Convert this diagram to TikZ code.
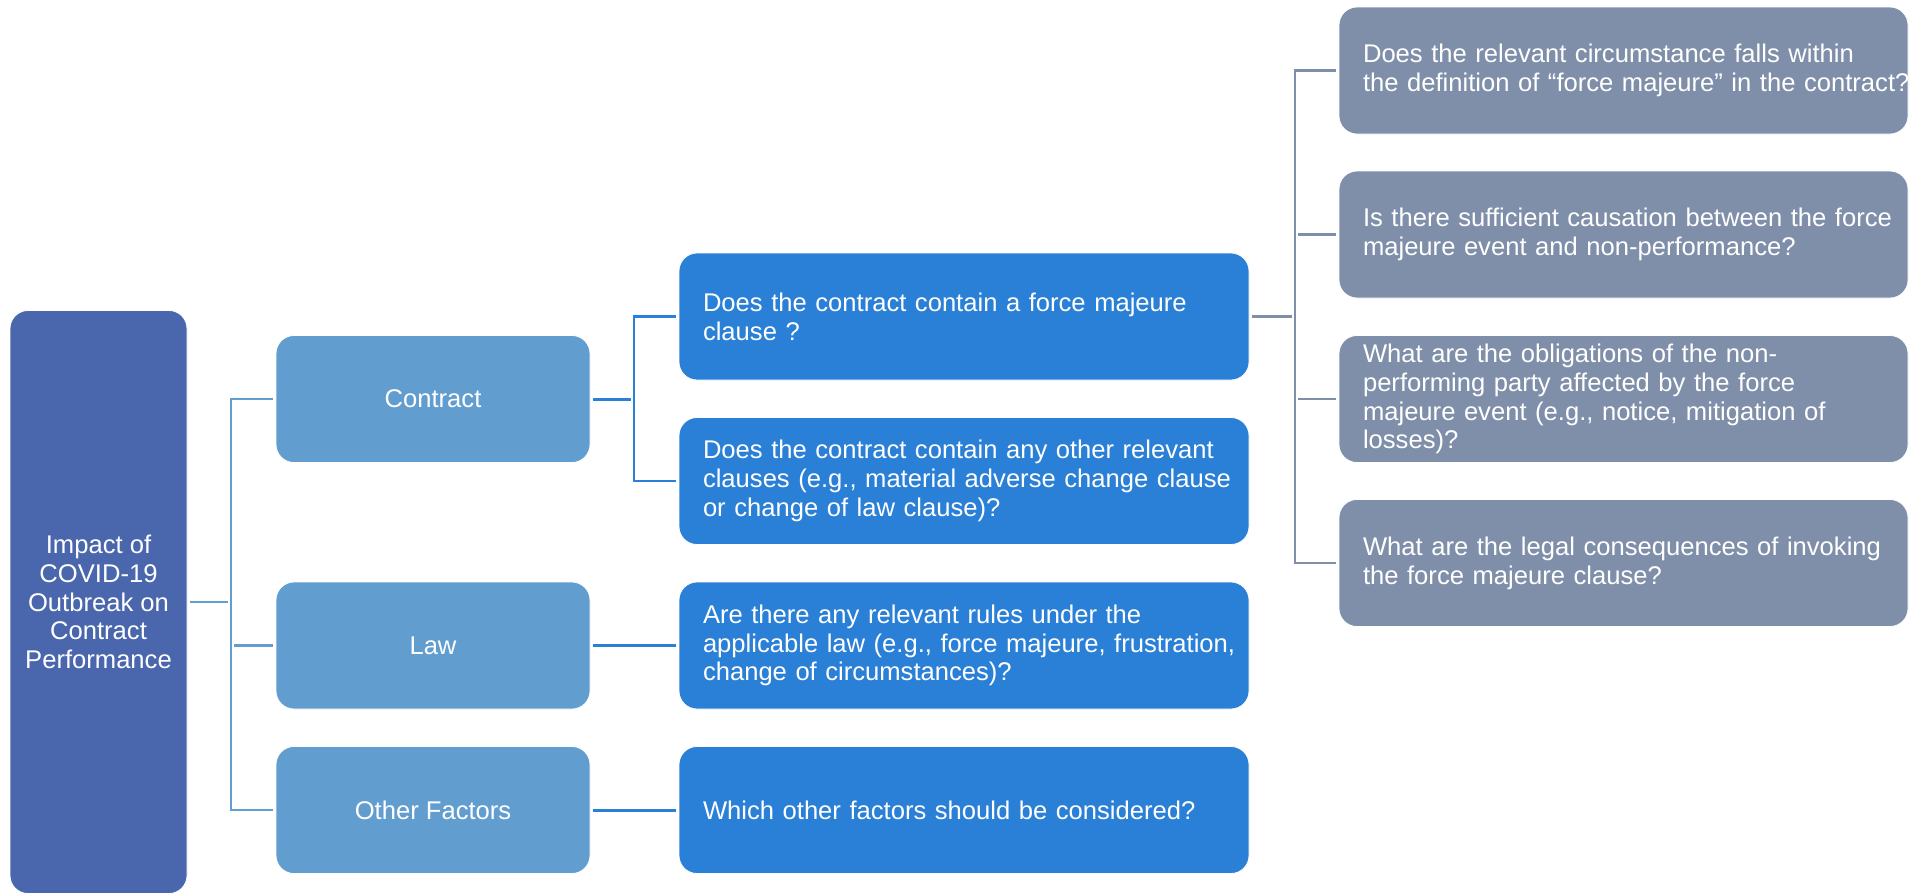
\documentclass[tikz,border=0pt]{standalone}
\usepackage{fontspec}
\setmainfont{Liberation Sans}
\definecolor{rootc}{HTML}{4A67AD}
\definecolor{lvlone}{HTML}{629DD0}
\definecolor{qblue}{HTML}{2A7FD6}
\definecolor{qgrey}{HTML}{7F8FA9}
\newcommand{\boxln}[1]{\mbox{#1}}
\begin{document}
\begin{tikzpicture}[x=0.5pt,y=-0.5pt,
  every node/.style={font=\fontsize{12.8pt}{14.4pt}\selectfont, text=white},
  rootbox/.style={fill=rootc, draw=white, line width=0.4pt, rounded corners=9pt, minimum width=88.5pt, minimum height=291.5pt, align=center, inner sep=2pt},
  lvlbox/.style={fill=lvlone, draw=white, line width=0.4pt, rounded corners=9pt, minimum width=157pt, minimum height=63.5pt, align=center},
  qbox/.style={fill=qblue, draw=white, line width=0.4pt, rounded corners=9pt, text width=261pt, inner xsep=12pt, minimum height=63.5pt, align=left},
  gbox/.style={fill=qgrey, draw=white, line width=0.4pt, rounded corners=9pt, text width=260.5pt, inner xsep=12pt, minimum height=63.5pt, align=left},
  conn/.style={line width=1.2pt, shorten >=1.5pt, shorten <=1.5pt},
  thickconn/.style={conn, line width=1.5pt},
]
\useasboundingbox (0,0) rectangle (1926,895);

\node[rootbox] (root) at (98.5,602) {Impact of\\COVID-19\\Outbreak on\\Contract\\Performance};

\node[lvlbox] (contract) at (433,399) {Contract};
\node[lvlbox] (law) at (433,645.5) {Law};
\node[lvlbox] (other) at (433,810) {Other Factors};

\node[qbox] (q1) at (964,316.5) {\boxln{Does the contract contain a force majeure}\\\boxln{clause ?}};
\node[qbox] (q2) at (964,481) {\boxln{Does the contract contain any other relevant}\\\boxln{clauses (e.g., material adverse change clause}\\\boxln{or change of law clause)?}};
\node[qbox] (lawq) at (964,645.5) {\boxln{Are there any relevant rules under the}\\\boxln{applicable law (e.g., force majeure, frustration,}\\\boxln{change of circumstances)?}};
\node[qbox] (otherq) at (964,810) {\boxln{Which other factors should be considered?}};

\node[gbox] (g1) at (1623.5,70.5) {\boxln{Does the relevant circumstance falls within}\\\boxln{the definition of “force majeure” in the contract?}};
\node[gbox] (g2) at (1623.5,234.5) {\boxln{Is there sufficient causation between the force}\\\boxln{majeure event and non-performance?}};
\node[gbox] (g3) at (1623.5,399) {\boxln{What are the obligations of the non-}\\\boxln{performing party affected by the force}\\\boxln{majeure event (e.g., notice, mitigation of}\\\boxln{losses)?}};
\node[gbox] (g4) at (1623.5,563) {\boxln{What are the legal consequences of invoking}\\\boxln{the force majeure clause?}};

% root connectors
\coordinate (bus1) at (231,0);
\draw[conn, draw=lvlone] (root.east) -- (root.east -| bus1);
\draw[conn, draw=lvlone] (contract.west) -- (contract.west -| bus1) -- (other.west -| bus1) -- (other.west);
\draw[conn, draw=lvlone] (law.west -| bus1) -- (law.west);

% contract connectors
\coordinate (bus2) at (634,0);
\draw[thickconn, draw=qblue] (contract.east) -- (contract.east -| bus2);
\draw[conn, draw=qblue] (q1.west) -- (q1.west -| bus2) -- (q2.west -| bus2) -- (q2.west);
\draw[thickconn, draw=qblue] (law.east) -- (lawq.west);
\draw[thickconn, draw=qblue] (other.east) -- (otherq.west);

% grey connectors
\coordinate (bus3) at (1295,0);
\draw[thickconn, draw=qgrey] (q1.east) -- (q1.east -| bus3);
\draw[conn, draw=qgrey] (g1.west) -- (g1.west -| bus3) -- (g4.west -| bus3) -- (g4.west);
\draw[conn, draw=qgrey] (g2.west -| bus3) -- (g2.west);
\draw[conn, draw=qgrey] (g3.west -| bus3) -- (g3.west);
\end{tikzpicture}
\end{document}
